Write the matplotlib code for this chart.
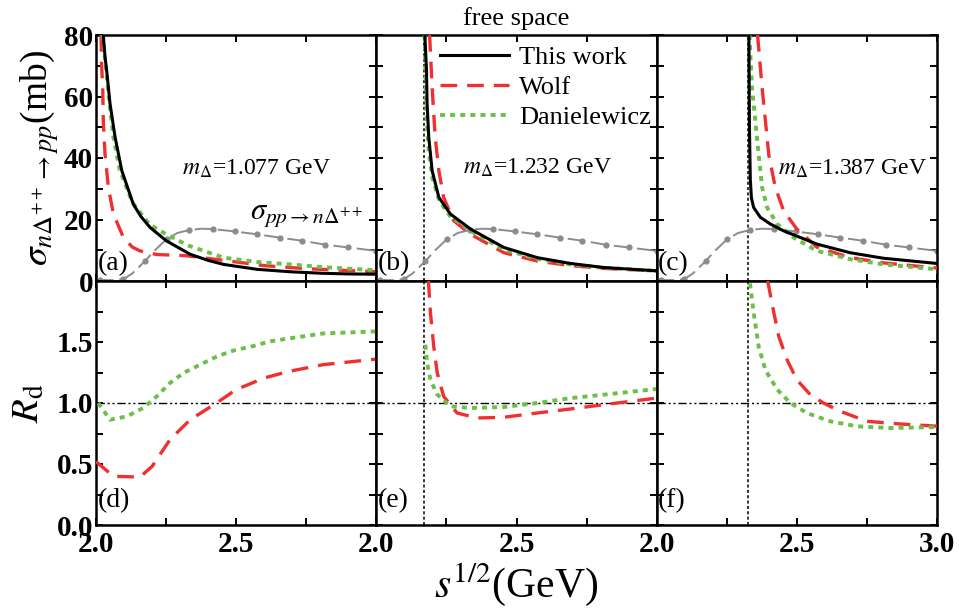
import matplotlib
matplotlib.use("Agg")
import matplotlib.pyplot as plt
from matplotlib.ticker import MultipleLocator

plt.rcParams['font.family'] = ['Liberation Serif', 'DejaVu Serif']
plt.rcParams['mathtext.fontset'] = 'stix'

# ---------------- data ----------------
thresholds = [2.016, 2.171, 2.326]
mass_labels = ["1.077", "1.232", "1.387"]

# gray sigma_pp->nDelta++ (same in each panel)
gray_x = [2.0, 2.014, 2.06, 2.098, 2.13, 2.175, 2.21, 2.252, 2.29, 2.333, 2.375, 2.417, 2.496, 2.574, 2.655, 2.735, 2.818, 2.9, 3.0]
gray_y = [0.3, 0.3, 0.3, 0.6, 2.5, 6.5, 10.0, 13.6, 15.6, 16.6, 17.0, 16.9, 16.1, 15.2, 14.1, 13.1, 11.8, 10.9, 9.8]
gray_marks = [1, 3, 5, 7, 9, 11, 12, 13, 14, 15, 16, 17, 18]

# panel (a)
a_black_x = [2.026, 2.032, 2.038, 2.05, 2.068, 2.092, 2.133, 2.16, 2.193, 2.252, 2.336, 2.4, 2.455, 2.574, 2.693, 2.81, 2.9, 3.0]
a_black_y = [80, 73, 68.5, 57.7, 46.8, 35.9, 25, 21, 17.4, 13, 8.7, 6.7, 5.4, 3.8, 3.0, 2.5, 2.3, 2.2]
a_green_x = [2.024, 2.036, 2.048, 2.062, 2.085, 2.13, 2.19, 2.25, 2.33, 2.455, 2.574, 2.693, 2.81, 3.0]
a_green_y = [80, 68.5, 57.7, 46.8, 36, 25.5, 18.5, 15.2, 11.5, 7.6, 6.2, 5.4, 4.5, 3.5]
a_red_x = [2.018, 2.02, 2.024, 2.026, 2.032, 2.044, 2.062, 2.098, 2.13, 2.157, 2.217, 2.28, 2.324, 2.43, 2.5, 2.6, 2.75, 3.0]
a_red_y = [80, 70, 63, 52, 41.5, 30.5, 21.8, 14.1, 11, 9.8, 8.6, 8.4, 8.2, 7.0, 6.2, 5.0, 4.0, 3.0]

# panel (b)
b_black_x = [2.173, 2.179, 2.181, 2.187, 2.199, 2.223, 2.264, 2.336, 2.455, 2.574, 2.693, 2.81, 3.0]
b_black_y = [80, 68.5, 57.7, 46.8, 35.9, 27.2, 21.8, 16.9, 10.9, 7.6, 5.7, 4.4, 3.3]
b_green_x = [2.172, 2.176, 2.18, 2.187, 2.2, 2.225, 2.264, 2.336, 2.455, 2.574, 2.693, 2.81, 3.0]
b_green_y = [80, 65, 52, 42, 33.5, 26, 21, 16.3, 10.2, 7.2, 5.4, 4.3, 3.3]
b_red_x = [2.19, 2.199, 2.21, 2.223, 2.24, 2.276, 2.336, 2.455, 2.574, 2.693, 2.81, 3.0]
b_red_y = [80, 63, 46.8, 35.9, 27.2, 19.6, 15.2, 9.2, 6.5, 5.0, 4.1, 3.3]

# panel (c)
c_black_x = [2.329, 2.331, 2.334, 2.338, 2.346, 2.37, 2.406, 2.453, 2.572, 2.69, 2.809, 3.0]
c_black_y = [80, 50, 33, 27, 23.9, 20.7, 18.5, 16.3, 12, 9.2, 7.4, 5.7]
c_green_x = [2.331, 2.34, 2.352, 2.364, 2.376, 2.394, 2.43, 2.489, 2.572, 2.69, 2.809, 3.0]
c_green_y = [80, 63, 52, 41, 30.5, 23.9, 18.5, 14.1, 9.8, 7.1, 5.4, 3.8]
c_red_x = [2.36, 2.376, 2.388, 2.4, 2.423, 2.453, 2.5, 2.572, 2.69, 2.809, 3.0]
c_red_y = [80, 63, 52, 41, 30.5, 22.8, 16.9, 11.0, 7.6, 5.9, 4.2]

# ratio R_d panels
d_green_x = [2.008, 2.05, 2.11, 2.169, 2.217, 2.264, 2.312, 2.371, 2.43, 2.49, 2.55, 2.62, 2.69, 2.81, 3.0]
d_green_y = [1.0, 0.863, 0.89, 0.96, 1.055, 1.164, 1.246, 1.314, 1.38, 1.43, 1.46, 1.505, 1.53, 1.57, 1.587]
d_red_x = [2.0, 2.062, 2.157, 2.2, 2.264, 2.336, 2.43, 2.5, 2.6, 2.69, 2.81, 3.0]
d_red_y = [0.52, 0.399, 0.393, 0.48, 0.70, 0.863, 1.0, 1.11, 1.205, 1.26, 1.314, 1.36]

e_green_x = [2.175, 2.181, 2.193, 2.217, 2.264, 2.336, 2.455, 2.574, 2.693, 2.81, 3.0]
e_green_y = [1.478, 1.33, 1.19, 1.07, 0.973, 0.959, 0.967, 1.0, 1.04, 1.068, 1.115]
e_red_x = [2.186, 2.193, 2.205, 2.217, 2.24, 2.288, 2.36, 2.455, 2.574, 2.693, 2.81, 3.0]
e_red_y = [2.0, 1.74, 1.46, 1.25, 1.055, 0.918, 0.877, 0.883, 0.918, 0.951, 0.986, 1.04]

f_green_x = [2.333, 2.346, 2.364, 2.388, 2.43, 2.477, 2.536, 2.619, 2.714, 2.833, 3.0]
f_green_y = [1.98, 1.74, 1.46, 1.27, 1.11, 1.0, 0.918, 0.85, 0.809, 0.795, 0.803]
f_red_x = [2.396, 2.418, 2.435, 2.465, 2.5, 2.548, 2.595, 2.655, 2.75, 2.868, 3.0]
f_red_y = [2.0, 1.74, 1.55, 1.355, 1.19, 1.068, 1.0, 0.932, 0.85, 0.828, 0.81]

top_data = [
    (a_black_x, a_black_y, a_red_x, a_red_y, a_green_x, a_green_y),
    (b_black_x, b_black_y, b_red_x, b_red_y, b_green_x, b_green_y),
    (c_black_x, c_black_y, c_red_x, c_red_y, c_green_x, c_green_y),
]
bot_data = [
    (d_red_x, d_red_y, d_green_x, d_green_y),
    (e_red_x, e_red_y, e_green_x, e_green_y),
    (f_red_x, f_red_y, f_green_x, f_green_y),
]
top_letters = ["(a)", "(b)", "(c)"]
bot_letters = ["(d)", "(e)", "(f)"]

# ---------------- styling ----------------
RED = '#f03030'
GREEN = '#6cc04a'
GRAY = '#8c8c8c'

W, H = 959, 610
fig = plt.figure(figsize=(W / 100, H / 100), dpi=100)

left_px, right_px = 96, 937
pw = (right_px - left_px) / 3
top_px, mid_px, bot_px = 35, 281, 525

def style_axes(ax):
    for s in ax.spines.values():
        s.set_linewidth(1.8)
    ax.tick_params(which='both', direction='in', top=True, right=True,
                   length=5, width=1.4, labelsize=21, pad=2)
    ax.tick_params(axis='x', pad=4)
    for lab in ax.get_xticklabels() + ax.get_yticklabels():
        lab.set_fontweight('bold')

top_axes, bot_axes = [], []
for i in range(3):
    x0 = (left_px + i * pw) / W
    axt = fig.add_axes([x0, 1 - mid_px / H, pw / W, (mid_px - top_px) / H])
    axb = fig.add_axes([x0, 1 - bot_px / H, pw / W, (bot_px - mid_px) / H])
    top_axes.append(axt)
    bot_axes.append(axb)

for i, ax in enumerate(top_axes):
    bx, by, rx, ry, gx, gy = top_data[i]
    ax.plot(gray_x, gray_y, color=GRAY, lw=1.4, dashes=(9, 3), marker='o',
            markersize=3.5, markevery=gray_marks, zorder=2)
    if i > 0:
        ax.axvline(thresholds[i], color='black', lw=1.1, ls=(0, (2, 1.5)), zorder=1)
    l1, = ax.plot(bx, by, color='black', lw=2.2, zorder=5, label='This work')
    l2, = ax.plot(rx, ry, color=RED, lw=2.4, dashes=(5, 3), zorder=4, label='Wolf')
    l3, = ax.plot(gx, gy, color=GREEN, lw=2.8, dashes=(1.3, 1.3), zorder=4, label='Danielewicz')
    ax.set_xlim(2.0, 3.0)
    ax.set_ylim(0, 80)
    ax.xaxis.set_major_locator(MultipleLocator(0.5))
    ax.xaxis.set_minor_locator(MultipleLocator(0.25))
    ax.yaxis.set_major_locator(MultipleLocator(20))
    ax.yaxis.set_minor_locator(MultipleLocator(10))
    ax.tick_params(labelbottom=False)
    if i > 0:
        ax.tick_params(labelleft=False)
    style_axes(ax)
    ax.text(0.005, 0.07, top_letters[i], transform=ax.transAxes, fontsize=20,
            ha='left', va='center')
    if i == 1:
        ax.legend(handles=[l1, l2, l3], loc='upper left', bbox_to_anchor=(0.19, 1.0),
                  frameon=False, fontsize=19, handlelength=2.6, handletextpad=0.4,
                  labelspacing=0.25, borderaxespad=0.2, borderpad=0.2)
        ax.set_title("free space", fontsize=19, pad=7)

mpos = [(0.307, 0.457), (0.31, 0.461), (0.434, 0.457)]
for i, ax in enumerate(top_axes):
    ax.text(mpos[i][0], mpos[i][1], r"$m_{\Delta}$=" + mass_labels[i] + " GeV",
            transform=ax.transAxes, fontsize=17, ha='left', va='center')
top_axes[0].text(0.55, 0.27, r"$\sigma_{pp\rightarrow n\Delta^{++}}$",
                 transform=top_axes[0].transAxes, fontsize=22, ha='left', va='center')

for i, ax in enumerate(bot_axes):
    rx, ry, gx, gy = bot_data[i]
    ax.axhline(1.0, color='black', lw=1.0, ls=(0, (6, 2, 1.5, 2, 1.5, 2)), zorder=1)
    if i > 0:
        ax.axvline(thresholds[i], color='black', lw=1.1, ls=(0, (2, 1.5)), zorder=1)
    ax.plot(rx, ry, color=RED, lw=2.4, dashes=(5, 3), zorder=4)
    ax.plot(gx, gy, color=GREEN, lw=2.8, dashes=(1.3, 1.3), zorder=4)
    ax.set_xlim(2.0, 3.0)
    ax.set_ylim(0, 2.0)
    ax.xaxis.set_major_locator(MultipleLocator(0.5))
    ax.xaxis.set_minor_locator(MultipleLocator(0.25))
    ax.set_yticks([0.0, 0.5, 1.0, 1.5])
    ax.set_yticklabels(["0.0", "0.5", "1.0", "1.5"])
    ax.yaxis.set_minor_locator(MultipleLocator(0.25))
    if i < 2:
        ax.set_xticks([2.0, 2.5])
        ax.set_xticklabels(["2.0", "2.5"])
    else:
        ax.set_xticks([2.0, 2.5, 3.0])
        ax.set_xticklabels(["2.0", "2.5", "3.0"])
    if i > 0:
        ax.tick_params(labelleft=False)
    style_axes(ax)
    ax.text(0.005, 0.10, bot_letters[i], transform=ax.transAxes, fontsize=20,
            ha='left', va='center')

top_axes[0].set_ylabel(r"$\sigma_{n\Delta^{++}\rightarrow pp}$(mb)", fontsize=27, labelpad=2)
bot_axes[0].set_ylabel(r"$R_{\rm d}$", fontsize=28, labelpad=6)
fig.text((left_px + right_px) / 2 / W, 1 - 585 / H, r"$s^{1/2}$(GeV)", fontsize=30,
         ha='center', va='center')

fig.savefig("out.png", dpi=100)
